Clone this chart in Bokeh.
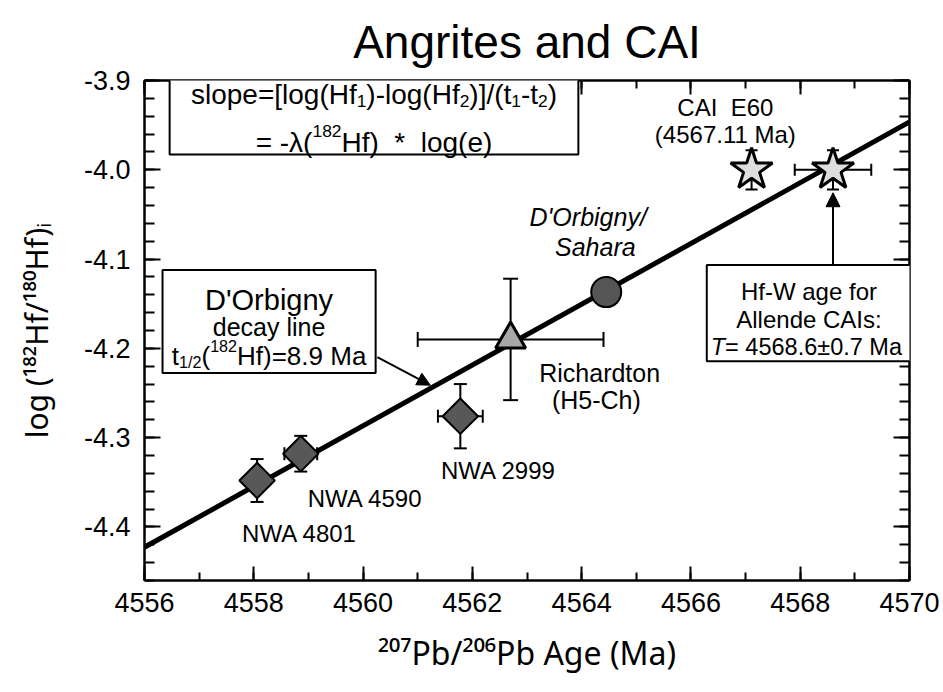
import math
from bokeh.plotting import figure
from bokeh.models import (Range1d, LinearAxis, SingleIntervalTicker, PrintfTickFormatter,
                          CustomJSTickFormatter, Label, BoxAnnotation, Arrow, NormalHead,
                          Whisker, TeeHead, ColumnDataSource)
from bokeh.embed import file_html
from bokeh.resources import INLINE

FONT = "Liberation Sans"
AXFONT = "Noto Sans"

# ---------------- data ----------------
angrite_names = ["NWA 4801", "NWA 4590", "NWA 2999"]
angrite_age = [4558.06, 4558.86, 4561.78]
angrite_age_err = [0.0, 0.30, 0.41]
angrite_loghf = [-4.348, -4.318, -4.276]
angrite_loghf_err = [0.024, 0.020, 0.036]

richardton_age = [4562.70]
richardton_age_err = [1.70]
richardton_loghf = [-4.190]
richardton_loghf_err = [0.068]

dorbigny_age = [4564.45]
dorbigny_loghf = [-4.137]

cai_names = ["CAI E60", "Allende CAIs"]
cai_age = [4567.11, 4568.60]
cai_age_err = [0.0, 0.70]
cai_loghf = [-4.000, -4.000]
cai_loghf_err = [0.022, 0.022]

decay_age = [4556.0, 4570.0]
decay_loghf = [-4.4227, -3.9465]

x_limits = [4556, 4570]
y_limits = [-4.46, -3.90]

# ---------------- text width helper (Arial / Liberation Sans metrics) ----------------
W = {' ': 278, '\u00a0': 278, "'": 191, '(': 333, ')': 333, '*': 389, '+': 584, ',': 278,
     '-': 333, '.': 278, '/': 278, ':': 278, '=': 584, '[': 278, ']': 278, '±': 584, 'λ': 500,
     'A': 667, 'B': 667, 'C': 722, 'D': 722, 'E': 667, 'F': 611, 'G': 778, 'H': 722, 'I': 278,
     'M': 833, 'N': 722, 'O': 778, 'P': 667, 'R': 722, 'S': 667, 'T': 611, 'W': 944,
     'a': 556, 'b': 556, 'c': 500, 'd': 556, 'e': 556, 'f': 278, 'g': 556, 'h': 556, 'i': 222,
     'k': 500, 'l': 222, 'm': 833, 'n': 556, 'o': 556, 'p': 556, 'r': 333, 's': 500, 't': 278,
     'u': 556, 'v': 500, 'w': 722, 'x': 500, 'y': 500, 'z': 500}


def tw(s, size):
    return sum(W.get(c, 556) for c in s) / 1000.0 * size


SMALL = 0.62
NB = "\u00a0"


def rich(p, x, y, segs, size, align="center"):
    """Place a line of text with super/subscripts as several Labels."""
    sizes = [size * SMALL if k != "n" else size for _, k in segs]
    widths = [tw(t, s) for (t, _), s in zip(segs, sizes)]
    total = sum(widths)
    d = {"center": -total / 2.0, "left": 0.0, "right": -total}[align]
    for (t, k), s, w in zip(segs, sizes, widths):
        h = {"n": 0.0, "sup": size * 0.40, "sub": -size * 0.22}[k]
        p.add_layout(Label(x=x, y=y, x_offset=d, y_offset=h, text=t,
                           text_font=FONT, text_font_size=f"{s:.1f}px",
                           text_color="black", text_align="left",
                           text_baseline="alphabetic"))
        d += w


# ---------------- figure ----------------
p = figure(width=943, height=692, x_range=Range1d(*x_limits), y_range=Range1d(*y_limits),
           output_backend="svg", toolbar_location=None,
           min_border_left=144, min_border_right=34, min_border_top=0, min_border_bottom=112)
p.grid.visible = False
p.outline_line_color = None
p.background_fill_color = "white"
p.border_fill_color = "white"

p.title.text = "Angrites and CAI"
p.title.text_font = FONT
p.title.text_font_size = "46px"
p.title.text_font_style = "normal"
p.title.text_color = "black"
p.title.align = "center"
p.title.standoff = 26


def style_axis(ax, interval, minor, tick_in, minor_in, labels=True, fmt="%d", size="27px"):
    ax.ticker = SingleIntervalTicker(interval=interval, num_minor_ticks=minor)
    ax.axis_line_width = 2.5
    ax.axis_line_color = "black"
    ax.major_tick_in = tick_in
    ax.major_tick_out = 0
    ax.minor_tick_in = minor_in
    ax.minor_tick_out = 0
    ax.major_tick_line_width = 2
    ax.minor_tick_line_width = 2
    ax.major_tick_line_color = "black"
    ax.minor_tick_line_color = "black"
    if labels:
        ax.formatter = PrintfTickFormatter(format=fmt)
        ax.major_label_text_font = FONT
        ax.major_label_text_font_size = size
        ax.major_label_text_color = "black"
    else:
        ax.formatter = CustomJSTickFormatter(code="return ''")
        ax.major_label_text_font_size = "1px"
        ax.major_label_standoff = 0


xb = p.xaxis[0]
style_axis(xb, 2, 2, 14, 8, fmt="%d")
xb.major_label_standoff = 12
xb.axis_label = "\u00b2\u2070\u2077Pb/\u00b2\u2070\u2076Pb Age (Ma)"
xb.axis_label_text_font = AXFONT
xb.axis_label_text_font_size = "32px"
xb.axis_label_text_font_style = "normal"
xb.axis_label_text_color = "black"
xb.axis_label_standoff = 16

yl = p.yaxis[0]
style_axis(yl, 0.1, 5, 16, 10, fmt="%.1f")
yl.major_label_standoff = 14
yl.axis_label = "log (\u00b9\u2078\u00b2Hf/\u00b9\u2078\u2070Hf)\u1d62"
yl.axis_label_text_font = AXFONT
yl.axis_label_text_font_size = "30px"
yl.axis_label_text_font_style = "normal"
yl.axis_label_text_color = "black"
yl.axis_label_standoff = 24

xt = LinearAxis()
style_axis(xt, 2, 2, 14, 8, labels=False)
p.add_layout(xt, "above")
yr = LinearAxis()
style_axis(yr, 0.1, 5, 16, 10, labels=False)
p.add_layout(yr, "right")


# ---------------- error bars ----------------
def whiskers(xs, ys, xerr, yerr, cap):
    vx = [(x, y, e) for x, y, e in zip(xs, ys, yerr) if e > 0]
    if vx:
        src = ColumnDataSource(dict(base=[a for a, _, _ in vx],
                                    lower=[b - e for _, b, e in vx],
                                    upper=[b + e for _, b, e in vx]))
        p.add_layout(Whisker(source=src, base="base", lower="lower", upper="upper",
                             dimension="height", line_width=2, line_color="black",
                             lower_head=TeeHead(size=cap, line_width=2),
                             upper_head=TeeHead(size=cap, line_width=2)))
    hx = [(x, y, e) for x, y, e in zip(xs, ys, xerr) if e > 0]
    if hx:
        src = ColumnDataSource(dict(base=[b for _, b, _ in hx],
                                    lower=[a - e for a, _, e in hx],
                                    upper=[a + e for a, _, e in hx]))
        p.add_layout(Whisker(source=src, base="base", lower="lower", upper="upper",
                             dimension="width", line_width=2, line_color="black",
                             lower_head=TeeHead(size=cap, line_width=2),
                             upper_head=TeeHead(size=cap, line_width=2)))


whiskers(angrite_age, angrite_loghf, angrite_age_err, angrite_loghf_err, 13)
whiskers(richardton_age, richardton_loghf, richardton_age_err, richardton_loghf_err, 15)
whiskers(cai_age, cai_loghf, cai_age_err, cai_loghf_err, 12)

# ---------------- decay line ----------------
p.line(decay_age, decay_loghf, line_color="black", line_width=5)

# ---------------- markers ----------------
p.scatter(angrite_age, angrite_loghf, marker="square", size=25, angle=math.pi / 4,
          fill_color="#585858", line_color="black", line_width=2)
p.scatter(richardton_age, richardton_loghf, marker="triangle", size=30,
          fill_color="#a8a8a8", line_color="black", line_width=3)
p.scatter(dorbigny_age, dorbigny_loghf, marker="circle", size=30,
          fill_color="#555555", line_color="black", line_width=2)
p.scatter(cai_age, cai_loghf, marker="star", size=44,
          fill_color="#dedede", line_color="black", line_width=3)

# ---------------- annotation boxes ----------------
for (l, r, t, b) in [(4556.46, 4563.94, -3.8764, -3.983),
                     (4556.33, 4560.23, -4.1121, -4.2277),
                     (4566.29, 4570.17, -4.1065, -4.2143)]:
    p.add_layout(BoxAnnotation(left=l, right=r, top=t, bottom=b,
                               fill_color="white", fill_alpha=1.0, line_color="black",
                               line_alpha=1.0, line_width=2, level="annotation"))

# slope box text
rich(p, 4560.20, -3.9157, [("slope=[log(Hf", "n"), ("1", "sub"), (")-log(Hf", "n"), ("2", "sub"),
                           (")]/(t", "n"), ("1", "sub"), ("-t", "n"), ("2", "sub"), (")", "n")], 28)
rich(p, 4560.20, -3.9696, [("= -λ(", "n"), ("182", "sup"),
                           ("Hf)" + NB + NB + "*" + NB + NB + "log(e)", "n")], 28)

# D'Orbigny decay line box
rich(p, 4558.28, -4.1458, [("D'Orbigny", "n")], 29)
rich(p, 4558.28, -4.1757, [("decay line", "n")], 25)
rich(p, 4558.28, -4.2086, [("t", "n"), ("1/2", "sub"), ("(", "n"), ("182", "sup"),
                           ("Hf)=8.9 Ma", "n")], 26)

# Hf-W box
rich(p, 4568.16, -4.1365, [("Hf-W age for", "n")], 24)
rich(p, 4568.16, -4.1682, [("Allende CAIs:", "n")], 24)
sz = 23.5
segsT = [("T", "italic"), ("= 4568.6±0.7 Ma", "normal")]
wT = [tw(t, sz) for t, _ in segsT]
d = -sum(wT) / 2
for (t, st), w in zip(segsT, wT):
    p.add_layout(Label(x=4568.12, y=-4.1989, x_offset=d, y_offset=0, text=t, text_font=FONT,
                       text_font_size=f"{sz}px", text_font_style=st, text_color="black",
                       text_align="left", text_baseline="alphabetic"))
    d += w

# arrows
p.add_layout(Arrow(x_start=4560.26, y_start=-4.2098, x_end=4561.23, y_end=-4.2412,
                   line_width=2, line_color="black",
                   end=NormalHead(size=13, fill_color="black", line_color="black")))
p.add_layout(Arrow(x_start=cai_age[1], y_start=-4.1065, x_end=cai_age[1], y_end=-4.0257,
                   line_width=2, line_color="black",
                   end=NormalHead(size=14, fill_color="black", line_color="black")))


# ---------------- point labels ----------------
def lab(x, y, text, size=24, style="normal"):
    p.add_layout(Label(x=x, y=y, text=text, text_font=FONT, text_font_size=f"{size}px",
                       text_font_style=style, text_color="black",
                       text_align="center", text_baseline="middle"))


lab(4566.63, -3.9303, "CAI" + NB + NB + "E60")
lab(4566.63, -3.9606, "(4567.11 Ma)")
lab(4564.12, -4.0526, "D'Orbigny/", 25, "italic")
lab(4564.25, -4.0863, "Sahara", 25, "italic")
lab(4564.33, -4.2277, "Richardton", 25)
lab(4564.27, -4.2580, "(H5-Ch)", 25)
lab(4562.48, -4.3366, angrite_names[2], 24)
lab(4560.04, -4.3680, angrite_names[1], 24)
lab(4558.84, -4.4073, angrite_names[0], 24)

open("out.html", "w").write(file_html(p, INLINE))
